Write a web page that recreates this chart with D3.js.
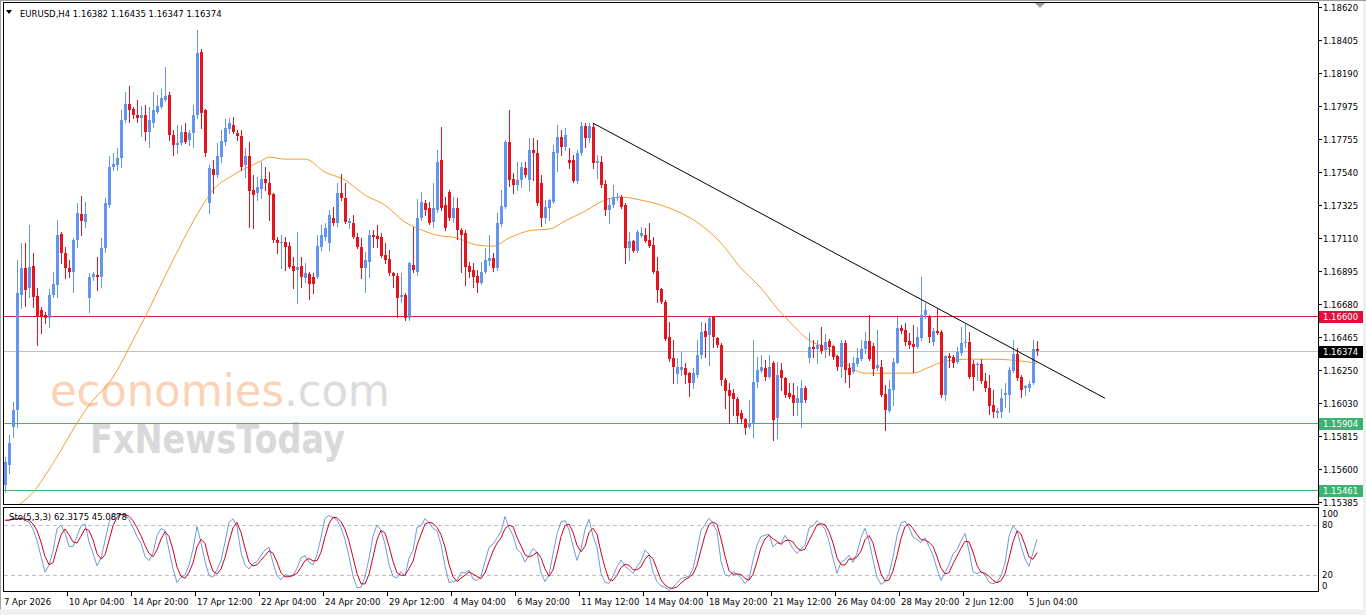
<!DOCTYPE html>
<html lang="en">
<head>
<meta charset="UTF-8">
<script src="https://d3js.org/d3.v7.min.js"></script>
<style>
  body, html { margin: 0; width: 100%; height: 100%; overflow: hidden; background: #fff; }
  svg text { font-family: "DejaVu Sans", sans-serif; font-size: 8.5px; fill: #000; }
</style>
</head>
<body>
<svg id="chart" width="1366" height="615"></svg>
<script>
const symbol = "EURUSD,H4";
const firstBar = Date.UTC(2026, 3, 7, 12);   // 7 Apr 2026 12:00, H4 bars, no weekends

// [open, high, low, close]
const candles = [
  [1.15494,1.15678,1.15448,1.15645],[1.15625,1.15821,1.15572,1.15768],[1.15873,1.16037,1.15808,1.15985],[1.15985,1.16966,1.15873,1.16749],
  [1.16737,1.17076,1.16652,1.16913],[1.16913,1.17076,1.16665,1.16769],[1.16783,1.17194,1.16723,1.16920],[1.16927,1.17011,1.16658,1.16723],
  [1.16730,1.16783,1.16409,1.16593],[1.16639,1.16658,1.16488,1.16593],[1.16606,1.16626,1.16553,1.16586],[1.16586,1.16776,1.16527,1.16737],
  [1.16737,1.16887,1.16723,1.16809],[1.16802,1.17227,1.16723,1.17129],[1.17136,1.17149,1.16946,1.17011],[1.17011,1.17050,1.16848,1.16913],
  [1.16913,1.16966,1.16854,1.16887],[1.16887,1.17110,1.16756,1.17096],[1.17096,1.17338,1.17050,1.17273],[1.17266,1.17384,1.17129,1.17220],
  [1.17214,1.17345,1.17181,1.17266],[1.16717,1.16880,1.16626,1.16854],[1.16854,1.16887,1.16835,1.16874],[1.16867,1.16985,1.16769,1.16854],
  [1.16854,1.17110,1.16789,1.17044],[1.17044,1.17371,1.17018,1.17338],[1.17325,1.17646,1.17312,1.17574],[1.17574,1.17665,1.17554,1.17594],
  [1.17587,1.17698,1.17554,1.17633],[1.17633,1.17947,1.17574,1.17881],[1.17881,1.18064,1.17868,1.17986],[1.17986,1.18104,1.17868,1.17947],
  [1.17953,1.17966,1.17895,1.17914],[1.17914,1.18012,1.17868,1.17895],[1.17895,1.17973,1.17777,1.17914],[1.17914,1.17979,1.17750,1.17803],
  [1.17803,1.17966,1.17704,1.17881],[1.17862,1.18064,1.17835,1.17947],[1.17934,1.18044,1.17927,1.17973],[1.17966,1.18084,1.17960,1.18025],
  [1.18012,1.18228,1.18005,1.18038],[1.18044,1.18064,1.17750,1.17783],[1.17783,1.17816,1.17652,1.17717],[1.17717,1.17848,1.17665,1.17730],
  [1.17730,1.17848,1.17717,1.17803],[1.17803,1.17862,1.17730,1.17737],[1.17750,1.17816,1.17717,1.17796],[1.17796,1.17979,1.17704,1.17914],
  [1.17914,1.18470,1.17895,1.18319],[1.18326,1.18346,1.17829,1.17927],[1.17947,1.17953,1.17646,1.17665],[1.17338,1.17587,1.17273,1.17567],
  [1.17561,1.17620,1.17403,1.17521],[1.17521,1.17730,1.17508,1.17646],[1.17640,1.17816,1.17607,1.17744],[1.17737,1.17888,1.17717,1.17829],
  [1.17822,1.17895,1.17796,1.17862],[1.17848,1.17901,1.17796,1.17803],[1.17796,1.17816,1.17750,1.17777],[1.17777,1.17816,1.17554,1.17574],
  [1.17587,1.17698,1.17508,1.17646],[1.17646,1.17737,1.17181,1.17417],[1.17423,1.17521,1.17175,1.17390],[1.17403,1.17508,1.17358,1.17443],
  [1.17430,1.17607,1.17371,1.17495],[1.17495,1.17574,1.17423,1.17469],[1.17469,1.17541,1.17227,1.17390],[1.17397,1.17403,1.17083,1.17096],
  [1.17096,1.17116,1.17011,1.17076],[1.17076,1.17129,1.16913,1.17083],[1.17083,1.17116,1.16900,1.17050],[1.17057,1.17083,1.16913,1.16920],
  [1.16927,1.16985,1.16783,1.16894],[1.16900,1.17149,1.16684,1.16920],[1.16927,1.16985,1.16789,1.16854],[1.16848,1.16946,1.16822,1.16880],
  [1.16874,1.16887,1.16710,1.16809],[1.16854,1.16880,1.16749,1.16809],[1.16854,1.17129,1.16848,1.17057],[1.17050,1.17194,1.17031,1.17129],
  [1.17116,1.17208,1.17096,1.17175],[1.17076,1.17293,1.17031,1.17260],[1.17240,1.17312,1.17194,1.17208],[1.17208,1.17469,1.17188,1.17403],
  [1.17403,1.17528,1.17358,1.17371],[1.17371,1.17469,1.17208,1.17214],[1.17208,1.17240,1.17175,1.17220],[1.17208,1.17260,1.17110,1.17116],
  [1.17116,1.17142,1.17044,1.17050],[1.17050,1.17110,1.16848,1.16913],[1.16913,1.17018,1.16756,1.16966],[1.16953,1.17162,1.16854,1.17129],
  [1.17129,1.17162,1.17050,1.17116],[1.17122,1.17194,1.17050,1.17103],[1.17116,1.17142,1.16985,1.16992],[1.16998,1.17076,1.16946,1.16966],
  [1.16972,1.17031,1.16867,1.16880],[1.16880,1.16887,1.16789,1.16861],[1.16861,1.16880,1.16593,1.16717],[1.16723,1.16880,1.16691,1.16737],
  [1.16737,1.16750,1.16573,1.16586],[1.16586,1.16953,1.16573,1.16946],[1.16933,1.17181,1.16887,1.16900],[1.16887,1.17365,1.16867,1.17240],
  [1.17240,1.17410,1.17227,1.17345],[1.17338,1.17358,1.17260,1.17293],[1.17306,1.17345,1.17201,1.17208],[1.17214,1.17469,1.17181,1.17306],
  [1.17293,1.17685,1.17280,1.17607],[1.17620,1.17835,1.17293,1.17306],[1.17325,1.17377,1.17162,1.17175],[1.17410,1.17423,1.17227,1.17240],
  [1.17240,1.17377,1.17214,1.17306],[1.17306,1.17371,1.17103,1.17162],[1.17162,1.17175,1.16887,1.17129],[1.17142,1.17162,1.16802,1.16920],
  [1.16927,1.16953,1.16854,1.16887],[1.16900,1.16946,1.16789,1.16854],[1.16861,1.16900,1.16756,1.16815],[1.16815,1.16953,1.16809,1.16887],
  [1.16887,1.17044,1.16880,1.16966],[1.16959,1.17129,1.16933,1.16979],[1.16979,1.17011,1.16894,1.16913],[1.16913,1.17273,1.16900,1.17208],
  [1.17201,1.17423,1.17188,1.17319],[1.17312,1.17750,1.17306,1.17737],[1.17737,1.17947,1.17450,1.17489],[1.17495,1.17535,1.17403,1.17456],
  [1.17456,1.17607,1.17423,1.17489],[1.17489,1.17607,1.17443,1.17574],[1.17567,1.17607,1.17508,1.17521],[1.17489,1.17763,1.17423,1.17685],
  [1.17685,1.17763,1.17489,1.17665],[1.17665,1.17750,1.17325,1.17338],[1.17469,1.17521,1.17188,1.17240],[1.17240,1.17358,1.17208,1.17312],
  [1.17306,1.17365,1.17227,1.17358],[1.17345,1.17718,1.17338,1.17672],[1.17665,1.17848,1.17548,1.17770],[1.17770,1.17816,1.17652,1.17704],
  [1.17704,1.17829,1.17685,1.17783],[1.17620,1.17698,1.17567,1.17600],[1.17620,1.17652,1.17476,1.17482],[1.17482,1.17685,1.17469,1.17665],
  [1.17665,1.17868,1.17652,1.17842],[1.17842,1.17862,1.17704,1.17763],[1.17763,1.17862,1.17737,1.17842],[1.17835,1.17862,1.17567,1.17600],
  [1.17600,1.17652,1.17502,1.17613],[1.17607,1.17646,1.17443,1.17456],[1.17463,1.17489,1.17260,1.17293],[1.17293,1.17371,1.17208,1.17325],
  [1.17325,1.17456,1.17312,1.17377],[1.17371,1.17403,1.17358,1.17377],[1.17377,1.17390,1.17306,1.17312],[1.17325,1.17338,1.16946,1.17044],
  [1.17044,1.17149,1.16966,1.17090],[1.17090,1.17096,1.17018,1.17024],[1.17024,1.17162,1.17018,1.17149],[1.17122,1.17181,1.17116,1.17142],
  [1.17129,1.17175,1.17083,1.17090],[1.17096,1.17208,1.17050,1.17057],[1.17063,1.17116,1.16880,1.16887],[1.16894,1.16985,1.16691,1.16769],
  [1.16776,1.16783,1.16684,1.16691],[1.16691,1.16704,1.16442,1.16449],[1.16462,1.16560,1.16305,1.16318],[1.16325,1.16442,1.16161,1.16266],
  [1.16220,1.16325,1.16161,1.16266],[1.16246,1.16364,1.16213,1.16266],[1.16259,1.16292,1.16161,1.16213],[1.16226,1.16233,1.16076,1.16161],
  [1.16161,1.16259,1.16128,1.16226],[1.16213,1.16442,1.16200,1.16344],[1.16344,1.16560,1.16325,1.16495],[1.16501,1.16553,1.16331,1.16462],
  [1.16475,1.16593,1.16279,1.16586],[1.16593,1.16599,1.16397,1.16462],[1.16456,1.16462,1.16397,1.16410],[1.16410,1.16423,1.16148,1.16181],
  [1.16181,1.16194,1.15998,1.16109],[1.16115,1.16161,1.15900,1.16076],[1.16095,1.16122,1.15952,1.16056],[1.16056,1.16069,1.15900,1.15945],
  [1.15965,1.15985,1.15900,1.15926],[1.15926,1.15932,1.15828,1.15867],[1.15873,1.16050,1.15867,1.15900],[1.15900,1.16442,1.15808,1.16168],
  [1.16168,1.16331,1.16135,1.16246],[1.16239,1.16344,1.16233,1.16266],[1.16259,1.16312,1.16181,1.16200],[1.16200,1.16344,1.16194,1.16266],
  [1.16292,1.16305,1.15788,1.15919],[1.15932,1.16299,1.15802,1.16214],[1.16246,1.16292,1.16115,1.16194],[1.16194,1.16200,1.16069,1.16082],
  [1.16095,1.16161,1.16063,1.16069],[1.16082,1.16161,1.15952,1.16030],[1.16030,1.16142,1.15952,1.16063],[1.16030,1.16181,1.15873,1.16128],
  [1.16128,1.16142,1.16037,1.16050],[1.16325,1.16488,1.16299,1.16397],[1.16397,1.16442,1.16331,1.16384],[1.16384,1.16442,1.16292,1.16410],
  [1.16410,1.16527,1.16357,1.16371],[1.16377,1.16481,1.16331,1.16429],[1.16436,1.16449,1.16344,1.16397],[1.16403,1.16410,1.16318,1.16331],
  [1.16338,1.16344,1.16246,1.16266],[1.16266,1.16442,1.16200,1.16423],[1.16423,1.16442,1.16168,1.16246],[1.16259,1.16292,1.16135,1.16213],
  [1.16233,1.16331,1.16226,1.16292],[1.16286,1.16390,1.16272,1.16325],[1.16318,1.16442,1.16312,1.16384],[1.16384,1.16495,1.16357,1.16436],
  [1.16436,1.16606,1.16312,1.16318],[1.16403,1.16423,1.16213,1.16253],[1.16259,1.16508,1.16246,1.16279],[1.16266,1.16312,1.16076,1.16082],
  [1.16089,1.16148,1.15854,1.15985],[1.15978,1.16181,1.15972,1.16122],[1.16115,1.16325,1.16017,1.16299],[1.16292,1.16593,1.16292,1.16521],
  [1.16521,1.16540,1.16488,1.16501],[1.16508,1.16553,1.16410,1.16429],[1.16436,1.16488,1.16390,1.16410],[1.16416,1.16540,1.16233,1.16397],
  [1.16397,1.16527,1.16390,1.16462],[1.16456,1.16854,1.16442,1.16606],[1.16606,1.16684,1.16586,1.16639],[1.16599,1.16606,1.16429,1.16462],
  [1.16429,1.16521,1.16410,1.16501],[1.16501,1.16645,1.16481,1.16488],[1.16495,1.16508,1.16069,1.16082],[1.16082,1.16344,1.16050,1.16338],
  [1.16338,1.16357,1.16266,1.16325],[1.16331,1.16344,1.16266,1.16292],[1.16299,1.16397,1.16292,1.16364],[1.16357,1.16527,1.16344,1.16423],
  [1.16423,1.16547,1.16397,1.16429],[1.16429,1.16495,1.16194,1.16200],[1.16285,1.16312,1.16115,1.16200],[1.16279,1.16299,1.16181,1.16285],
  [1.16285,1.16318,1.16161,1.16174],[1.16174,1.16227,1.16109,1.16128],[1.16128,1.16213,1.15958,1.16011],[1.16017,1.16115,1.15939,1.15972],
  [1.15965,1.15998,1.15939,1.15978],[1.15972,1.16122,1.15939,1.16063],[1.16082,1.16161,1.16004,1.16095],[1.16082,1.16266,1.15972,1.16246],
  [1.16239,1.16442,1.16233,1.16351],[1.16351,1.16390,1.16181,1.16194],[1.16200,1.16213,1.16069,1.16115],[1.16128,1.16148,1.16083,1.16141],
  [1.16128,1.16174,1.16109,1.16155],[1.16161,1.16442,1.16155,1.16382],[1.16382,1.16435,1.16347,1.16374]
];

// moving average: [bar index, price]
const maPoints = [
  [3,1.15357],[7,1.15448],[12,1.15638],[18,1.15900],[21,1.16017],[27,1.16201],[32,1.16442],[35,1.16593],
  [42,1.16966],[49,1.17306],[52,1.17423],[57,1.17521],[64,1.17613],[66,1.17639],[70,1.17626],[75,1.17626],
  [80,1.17541],[85,1.17489],[90,1.17391],[95,1.17325],[100,1.17214],[103,1.17175],[108,1.17129],[113,1.17110],
  [118,1.17064],[122,1.17057],[126,1.17110],[132,1.17162],[136,1.17168],[140,1.17221],[145,1.17286],[150,1.17358],
  [154,1.17378],[159,1.17358],[164,1.17325],[169,1.17273],[174,1.17195],[179,1.17077],[184,1.16913],[189,1.16783],
  [193,1.16652],[196,1.16567],[201,1.16442],[206,1.16384],[210,1.16292],[215,1.16227],[221,1.16227],[227,1.16227],
  [231,1.16266],[235,1.16305],[241,1.16318],[247,1.16318],[252,1.16312],[258,1.16292]
];

const trendLine = [[147, 1.17861], [275, 1.16063]];
const resistance = [1.16600];
const supports = [1.15904, 1.15461];
const priceTicks = [1.18620,1.18405,1.18190,1.17975,1.17755,1.17540,1.17325,1.17110,1.16895,1.16680,
                    1.16465,1.16250,1.16030,1.15815,1.15600,1.15385];
const firstLabel = "7 Apr 2026";
const timeLabels = ["10 Apr 04:00","14 Apr 20:00","17 Apr 12:00","22 Apr 04:00","24 Apr 20:00","29 Apr 12:00",
  "4 May 04:00","6 May 20:00","11 May 12:00","14 May 04:00","18 May 20:00","21 May 12:00","26 May 04:00",
  "28 May 20:00","2 Jun 12:00","5 Jun 04:00"];
const stochLevels = [80, 20];
const stochTicks = [100, 80, 20, 0];
const stochTitle = "Sto(5,3,3) 62.3175 45.0878";

const bullColor = "#6495ED", bearColor = "#E3141E";

// bar times (H4, skipping weekends)
const barTimes = [];
let t = firstBar;
for (let i = 0; i < candles.length; i++) {
  barTimes.push(new Date(t));
  t += 4 * 3600e3;
  while ([0, 6].includes(new Date(t).getUTCDay())) t += 4 * 3600e3;
}
const fmt = d3.utcFormat("%-d %b %H:%M");

const svg = d3.select("#chart");
const defs = svg.append("defs");
defs.append("clipPath").attr("id", "clipMain").append("rect")
  .attr("x", 4).attr("y", 3).attr("width", 1314).attr("height", 501);
defs.append("clipPath").attr("id", "clipSto").append("rect")
  .attr("x", 4).attr("y", 508).attr("width", 1314).attr("height", 83);

const x = d3.scaleLinear().domain([0, 258]).range([5, 1037]);
const y = d3.scaleLinear().domain([1.15372, 1.18646]).range([504, 3]);
const ys = d3.scaleLinear().domain([0, 100]).range([591.5, 508.3]);

// window frame
svg.append("rect").attr("width", 1366).attr("height", 615).attr("fill", "#fff");
svg.append("rect").attr("x", 0).attr("y", 609).attr("width", 1366).attr("height", 6).attr("fill", "#f0f0f0");
svg.append("rect").attr("x", 1363).attr("y", 0).attr("width", 3).attr("height", 615).attr("fill", "#f0f0f0");
svg.append("line").attr("x1", 0).attr("x2", 1366).attr("y1", 0.5).attr("y2", 0.5).attr("stroke", "#a0a0a0");
svg.append("line").attr("x1", 0.5).attr("x2", 0.5).attr("y1", 0).attr("y2", 609).attr("stroke", "#a0a0a0");

// watermark
const wm = svg.append("g").style("font-family", "'Liberation Sans', sans-serif");
const eco = wm.append("text").attr("x", 50).attr("y", 406).attr("textLength", 340).attr("lengthAdjust", "spacingAndGlyphs")
  .style("font-size", "45px");
eco.append("tspan").style("fill", "#fad3b6").text("economies");
eco.append("tspan").style("fill", "#dcdcdc").text(".com");
wm.append("text").attr("x", 90).attr("y", 453).attr("textLength", 255).attr("lengthAdjust", "spacingAndGlyphs")
  .style("font-size", "40px").style("font-weight", "bold").style("fill", "#d9d9d9").text("FxNewsToday");

// horizontal levels
const main = svg.append("g");
const hline = (p, color) => main.append("line").attr("x1", 4).attr("x2", 1318)
  .attr("y1", Math.round(y(p)) + 0.5).attr("y2", Math.round(y(p)) + 0.5).attr("stroke", color);
resistance.forEach(p => hline(p, "#d81b3c"));
supports.forEach(p => hline(p, "#3cb371"));
const last = candles[candles.length - 1];
hline(last[3], "#c0c0c0");

// moving average
main.append("path").datum(maPoints).attr("clip-path", "url(#clipMain)")
  .attr("fill", "none").attr("stroke", "#f0a030").attr("stroke-width", 1)
  .attr("d", d3.line().x(d => x(d[0])).y(d => y(d[1])).curve(d3.curveMonotoneX));

// candles
const cg = main.append("g").attr("clip-path", "url(#clipMain)").attr("shape-rendering", "crispEdges");
const col = d => d[3] >= d[0] ? bullColor : bearColor;
cg.selectAll("rect.wick").data(candles).join("rect").attr("class", "wick")
  .attr("x", (d, i) => x(i)).attr("width", 1)
  .attr("y", d => Math.round(y(d[1])))
  .attr("height", d => Math.round(y(d[2])) - Math.round(y(d[1])) + 1)
  .attr("fill", col);
cg.selectAll("rect.body").data(candles).join("rect").attr("class", "body")
  .attr("x", (d, i) => x(i) - 1).attr("width", 3)
  .attr("y", d => Math.round(y(Math.max(d[0], d[3]))))
  .attr("height", d => Math.max(1, Math.round(y(Math.min(d[0], d[3]))) - Math.round(y(Math.max(d[0], d[3])))))
  .attr("fill", col);

// trend line
main.append("line").attr("clip-path", "url(#clipMain)")
  .attr("x1", x(trendLine[0][0])).attr("y1", y(trendLine[0][1]))
  .attr("x2", x(trendLine[1][0])).attr("y2", y(trendLine[1][1]))
  .attr("stroke", "#000").attr("stroke-width", 1);

// chart shift marker
const sx = x(candles.length - 1) + 3;
svg.append("path").attr("d", `M${sx - 5},3L${sx + 5},3L${sx},8Z`).attr("fill", "#a0a0a0");

// stochastic (5,3,3)
const raw = candles.map((d, i) => {
  const w = candles.slice(Math.max(0, i - 4), i + 1);
  const ll = d3.min(w, e => e[2]), hh = d3.max(w, e => e[1]);
  return { num: d[3] - ll, den: hh - ll };
});
const kLine = raw.map((d, i) => {
  const w = raw.slice(Math.max(0, i - 2), i + 1);
  return 100 * d3.sum(w, e => e.num) / d3.sum(w, e => e.den);
});
const dLine = kLine.map((d, i) => d3.mean(kLine.slice(Math.max(0, i - 2), i + 1)));

const sg = svg.append("g");
stochLevels.forEach(v => sg.append("line").attr("x1", 4).attr("x2", 1318)
  .attr("y1", Math.round(ys(v)) + 0.5).attr("y2", Math.round(ys(v)) + 0.5)
  .attr("stroke", "#c0c0c0").attr("stroke-dasharray", "4,3"));
const sLine = d3.line().x((d, i) => x(i)).y(d => ys(d));
sg.append("path").datum(kLine).attr("clip-path", "url(#clipSto)").attr("fill", "none")
  .attr("stroke", "#6f9ad9").attr("stroke-width", 1).attr("d", sLine);
sg.append("path").datum(dLine).attr("clip-path", "url(#clipSto)").attr("fill", "none")
  .attr("stroke", "#d0021b").attr("stroke-width", 1).attr("d", sLine);
sg.append("text").attr("x", 9).attr("y", 520).text(stochTitle);

// frames
const fr = svg.append("g").attr("fill", "none").attr("stroke", "#000").attr("shape-rendering", "crispEdges");
fr.append("rect").attr("x", 3.5).attr("y", 2.5).attr("width", 1315).attr("height", 502);
fr.append("rect").attr("x", 3.5).attr("y", 507.5).attr("width", 1315).attr("height", 84);

// price axis
const ax = svg.append("g");
priceTicks.forEach(p => {
  const yy = Math.round(y(p)) + 0.5;
  ax.append("line").attr("x1", 1318).attr("x2", 1322).attr("y1", yy).attr("y2", yy).attr("stroke", "#000");
  ax.append("text").attr("x", 1323).attr("y", yy).attr("dominant-baseline", "central").text(p.toFixed(5));
});
const tag = (p, bg) => {
  const yy = Math.round(y(p));
  ax.append("rect").attr("x", 1319).attr("y", yy - 5).attr("width", 44).attr("height", 12).attr("fill", bg);
  ax.append("text").attr("x", 1323).attr("y", yy + 0.5).attr("dominant-baseline", "central")
    .style("fill", "#fff").text(p.toFixed(5));
};
resistance.forEach(p => tag(p, "#e0103c"));
supports.forEach(p => tag(p, "#3cb371"));
tag(last[3], "#000");

// stochastic axis
const stoOffset = { 100: 6, 80: 0.5, 20: 0.5, 0: -6 };
stochTicks.forEach(v => {
  ax.append("text").attr("x", 1322).attr("y", ys(v) + stoOffset[v]).attr("dominant-baseline", "central").text(v);
});

// time axis
const tx = svg.append("g");
tx.append("text").attr("x", x(0) - 1).attr("y", 605).text(firstLabel);
timeLabels.forEach(lbl => {
  const i = barTimes.findIndex(d => fmt(d) === lbl);
  if (i < 0) return;
  tx.append("line").attr("x1", x(i) - 1.5).attr("x2", x(i) - 1.5).attr("y1", 592).attr("y2", 596).attr("stroke", "#000");
  tx.append("text").attr("x", x(i)).attr("y", 605).text(lbl);
});

// header
svg.append("path").attr("d", "M6,10L12,10L9,14Z").attr("fill", "#000");
svg.append("text").attr("x", 20).attr("y", 16.5)
  .text(`${symbol}  ${last.map(v => v.toFixed(5)).join(" ")}`);
</script>
</body>
</html>
